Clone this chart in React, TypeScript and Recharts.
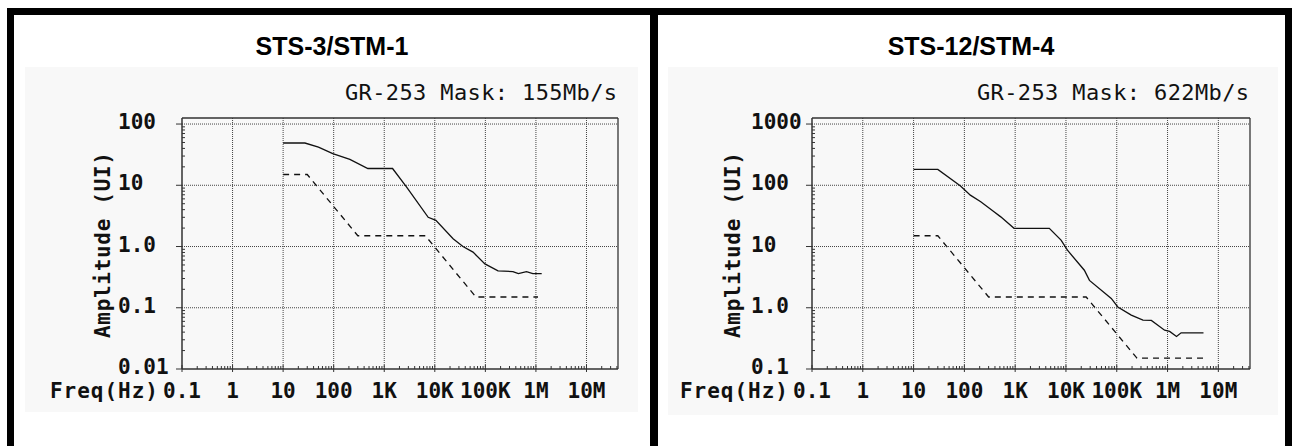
import React from 'react';
import { LineChart, Line, XAxis, YAxis, ReferenceLine } from 'recharts';

// frequency axis (Hz), shared by both panels
const FREQ_TICKS = [0.1, 1, 10, 100, 1e3, 1e4, 1e5, 1e6, 1e7];
const FREQ_LABELS = ['0.1', '1', '10', '100', '1K', '10K', '100K', '1M', '10M'];
const FREQ_MAX = 4.2e7;

// amplitude axes (UI)
const STS3_AMP_TICKS = [0.01, 0.1, 1, 10, 100];
const STS3_AMP_LABELS = ['0.01', '0.1', '1.0', '10', '100'];
const STS3_AMP_MAX = 125.5;

const STS12_AMP_TICKS = [0.1, 1, 10, 100, 1000];
const STS12_AMP_LABELS = ['0.1', '1.0', '10', '100', '1000'];
const STS12_AMP_MAX = 1255;

// STS-3 measured tolerance (solid) and GR-253 mask (dashed)
const STS3_MEAS_FREQ = [10, 27, 50, 96, 209, 474, 1460, 2750, 7400, 10500, 23000, 36000, 57000, 98000, 178000, 350000, 450000, 650000, 870000, 1300000];
const STS3_MEAS_AMP = [49, 49, 42, 33, 26.4, 18.8, 18.8, 9.4, 3.0, 2.67, 1.34, 1.0, 0.81, 0.52, 0.4, 0.39, 0.36, 0.39, 0.36, 0.36];
const STS3_MASK_FREQ = [10, 30, 300, 6500, 65000, 1100000];
const STS3_MASK_AMP = [15, 15, 1.5, 1.5, 0.15, 0.15];

// STS-12 measured tolerance (solid) and GR-253 mask (dashed)
const STS12_MEAS_FREQ = [10, 30, 84, 131, 210, 383, 520, 950, 4700, 8000, 10700, 23000, 29000, 78000, 105000, 193000, 328000, 480000, 875000, 1100000, 1500000, 1850000, 5100000];
const STS12_MEAS_AMP = [182, 182, 97, 69, 54, 37, 30.5, 19.8, 19.8, 12.7, 8.7, 4.1, 2.8, 1.42, 1.03, 0.76, 0.63, 0.62, 0.43, 0.41, 0.34, 0.39, 0.39];
const STS12_MASK_FREQ = [10, 30, 300, 25000, 250000, 5100000];
const STS12_MASK_AMP = [15, 15, 1.5, 1.5, 0.15, 0.15];

const MINOR = [2, 3, 4, 5, 6, 7, 8, 9];
const MONO = '"DejaVu Sans Mono", monospace';
const INK = '#111';
const AXIS = '#333';

const toPoints = (freq: number[], amp: number[]) => freq.map((f, i) => ({ freq: f, amp: amp[i] }));
const withMinors = (majors: number[], max: number) =>
  [...majors, ...majors.flatMap((t) => MINOR.map((m) => t * m))].filter((v) => v <= max).sort((a, b) => a - b);

const XTick = (props: any) => {
  const { x, y, payload } = props;
  const i = FREQ_TICKS.indexOf(payload.value);
  if (i < 0) return <line x1={x} x2={x} y1={y} y2={y - 3} stroke={AXIS} />;
  return (
    <g>
      <line x1={x} x2={x} y1={y - 4} y2={y + 3} stroke={AXIS} />
      <text x={x} y={y + 29} textAnchor="middle" fontFamily={MONO} fontWeight="bold" fontSize={21} fill={INK}>
        {FREQ_LABELS[i]}
      </text>
    </g>
  );
};

const makeYTick = (majors: number[], labels: string[], labelDx: number) => (props: any) => {
  const { x, y, payload } = props;
  const i = majors.indexOf(payload.value);
  if (i < 0) return <line x1={x} x2={x + 3} y1={y} y2={y} stroke={AXIS} />;
  return (
    <g>
      <line x1={x - 6} x2={x} y1={y} y2={y} stroke={AXIS} />
      <text x={x + labelDx} y={y + 5} textAnchor="start" fontFamily={MONO} fontWeight="bold" fontSize={21} fill={INK}>
        {labels[i]}
      </text>
    </g>
  );
};

interface PanelProps {
  left: number;
  width: number;
  yAxisWidth: number;
  rightMargin: number;
  ampTicks: number[];
  ampLabels: string[];
  ampMax: number;
  labelDx: number;
  meas: { freq: number; amp: number }[];
  mask: { freq: number; amp: number }[];
}

const Panel = ({ left, width, yAxisWidth, rightMargin, ampTicks, ampLabels, ampMax, labelDx, meas, mask }: PanelProps) => {
  const grid = { stroke: '#444', strokeDasharray: '1 1', strokeWidth: 1 };
  return (
    <div style={{ position: 'absolute', left, top: 0 }}>
      <LineChart width={width} height={446} margin={{ top: 118, right: rightMargin, bottom: 47, left: 0 }}>
        <XAxis
          dataKey="freq"
          type="number"
          scale="log"
          domain={[0.1, FREQ_MAX]}
          allowDataOverflow
          ticks={withMinors(FREQ_TICKS, FREQ_MAX)}
          interval={0}
          tickSize={0}
          tickMargin={0}
          tickLine={false}
          tick={XTick}
          height={30}
          axisLine={{ stroke: AXIS, strokeWidth: 1.5 }}
        />
        <YAxis
          dataKey="amp"
          type="number"
          scale="log"
          domain={[ampTicks[0], ampMax]}
          allowDataOverflow
          ticks={withMinors(ampTicks, ampMax)}
          interval={0}
          tickSize={0}
          tickMargin={0}
          tickLine={false}
          tick={makeYTick(ampTicks, ampLabels, labelDx)}
          width={yAxisWidth}
          axisLine={{ stroke: AXIS, strokeWidth: 1.5 }}
        />
        {FREQ_TICKS.slice(1).map((f) => (
          <ReferenceLine key={'x' + f} x={f} {...grid} />
        ))}
        {ampTicks.slice(1).map((a) => (
          <ReferenceLine key={'y' + a} y={a} {...grid} />
        ))}
        <ReferenceLine y={ampMax} stroke={AXIS} strokeWidth={1.3} />
        <ReferenceLine x={FREQ_MAX} stroke={AXIS} strokeWidth={1.3} />
        <Line data={mask} dataKey="amp" type="linear" stroke={INK} strokeWidth={1.3} strokeDasharray="6 5" dot={false} isAnimationActive={false} />
        <Line data={meas} dataKey="amp" type="linear" stroke={INK} strokeWidth={1.3} dot={false} isAnimationActive={false} />
      </LineChart>
    </div>
  );
};

const Labels = ({ center, plotLeft, plotRight, title, mask }: { center: number; plotLeft: number; plotRight: number; title: string; mask: string }) => (
  <g>
    <text x={center} y={55} textAnchor="middle" fontFamily='"Liberation Sans", Arial, sans-serif' fontWeight="bold" fontSize={25} fill="#000">
      {title}
    </text>
    <text x={plotRight - 1} y={100} textAnchor="end" fontFamily={MONO} fontSize={22} textLength={272} lengthAdjust="spacing" fill={INK}>
      {mask}
    </text>
    <text x={plotLeft - 24} y={398} textAnchor="end" fontFamily={MONO} fontWeight="bold" fontSize={21} textLength={108} lengthAdjust="spacing" fill={INK}>
      Freq(Hz)
    </text>
    <text
      x={plotLeft - 79}
      y={245}
      transform={`rotate(-90 ${plotLeft - 79} 245)`}
      textAnchor="middle"
      dominantBaseline="central"
      fontFamily={MONO}
      fontWeight="bold"
      fontSize={21}
      textLength={186}
      lengthAdjust="spacing"
      fill={INK}
    >
      Amplitude (UI)
    </text>
  </g>
);

export default function App() {
  return (
    <div style={{ position: 'fixed', left: 0, top: 0, width: 1292, height: 446, background: '#fff', overflow: 'hidden' }}>
      <div style={{ position: 'absolute', left: 25, top: 67, width: 613, height: 345, background: '#f8f8f8' }} />
      <div style={{ position: 'absolute', left: 668, top: 67, width: 610, height: 348, background: '#f8f8f8' }} />
      <Panel
        left={0}
        width={650}
        yAxisWidth={182}
        rightMargin={32}
        ampTicks={STS3_AMP_TICKS}
        ampLabels={STS3_AMP_LABELS}
        ampMax={STS3_AMP_MAX}
        labelDx={-64}
        meas={toPoints(STS3_MEAS_FREQ, STS3_MEAS_AMP)}
        mask={toPoints(STS3_MASK_FREQ, STS3_MASK_AMP)}
      />
      <Panel
        left={658}
        width={634}
        yAxisWidth={154}
        rightMargin={42}
        ampTicks={STS12_AMP_TICKS}
        ampLabels={STS12_AMP_LABELS}
        ampMax={STS12_AMP_MAX}
        labelDx={-61}
        meas={toPoints(STS12_MEAS_FREQ, STS12_MEAS_AMP)}
        mask={toPoints(STS12_MASK_FREQ, STS12_MASK_AMP)}
      />
      <svg width={1292} height={446} style={{ position: 'absolute', left: 0, top: 0, pointerEvents: 'none' }}>
        <Labels center={332} plotLeft={182} plotRight={618} title="STS-3/STM-1" mask="GR-253 Mask: 155Mb/s" />
        <Labels center={971} plotLeft={812} plotRight={1250} title="STS-12/STM-4" mask="GR-253 Mask: 622Mb/s" />
        <rect x={7} y={8} width={1285} height={7} fill="#000" />
        <rect x={7} y={8} width={7} height={438} fill="#000" />
        <rect x={650} y={8} width={8} height={438} fill="#000" />
        <rect x={1285} y={8} width={7} height={438} fill="#000" />
      </svg>
    </div>
  );
}
